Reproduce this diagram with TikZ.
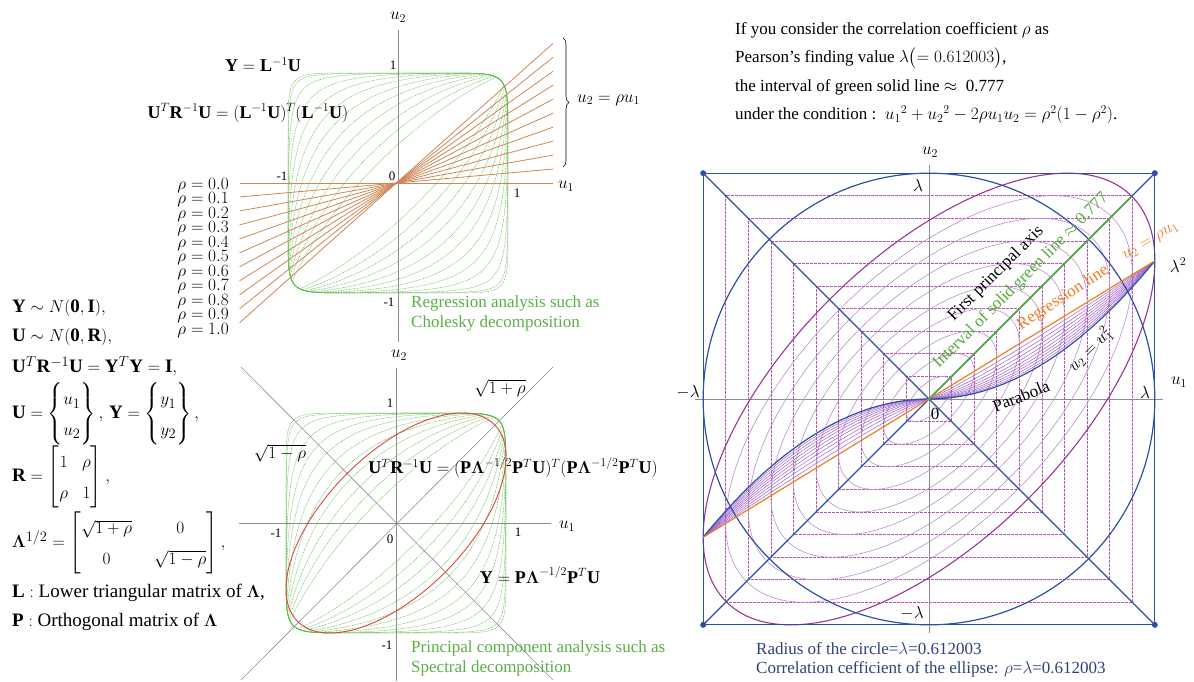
\documentclass[tikz,border=0pt]{standalone}
\usepackage{amsmath}
\usepackage{bm}
\usepackage{fontspec}
\setmainfont{Liberation Serif}
\usetikzlibrary{decorations.pathreplacing}
\definecolor{gcol}{RGB}{95,185,75}
\definecolor{gtext}{RGB}{90,175,70}
\definecolor{orl}{RGB}{205,135,85}
\definecolor{ora}{RGB}{240,125,35}
\definecolor{bl}{RGB}{45,80,165}
\definecolor{dbl}{RGB}{45,65,125}
\definecolor{pur}{RGB}{150,55,150}
\definecolor{pdsh}{RGB}{180,85,180}
\definecolor{plt}{RGB}{190,140,205}
\definecolor{pfan}{RGB}{155,95,205}
\definecolor{gln}{RGB}{85,170,60}
\definecolor{redc}{RGB}{220,70,60}
\newcommand{\mygreenfam}{%
  \foreach \ph in {10.2,14.6,19.1,23.9,28.9,34.3,40.3,47.1,55.1,65.5,77.0,90.0}{%
    \draw[gdot] plot[domain=0:360,samples=150]
      ({hh(cos(\x))*sn(hh(cos(\x)),hh(cos(\x-\ph)))},
       {hh(cos(\x-\ph))*sn(hh(cos(\x)),hh(cos(\x-\ph)))});}}
\newcommand{\mstr}{\renewcommand{\arraystretch}{1.45}\setlength{\arraycolsep}{7pt}}
\begin{document}
\begin{tikzpicture}[x=1pt,y=-1pt,
  declare function={hh(\c)=sin(90*(1.3*\c-0.3*\c*\c*\c));
    sn(\a,\b)=min(1,1/((abs(\a))^10+(abs(\b))^10+0.0001)^0.1);},
  ax/.style={draw=black!45, line width=0.6pt},
  gdot/.style={draw=gcol, line width=0.45pt, dash pattern=on 0.9pt off 0.7pt},
  txt/.style={font=\fontsize{17}{18}\selectfont, inner sep=0pt},
  rtxt/.style={font=\fontsize{16.5}{17}\selectfont, inner sep=0pt},
  big/.style={font=\fontsize{19}{21}\selectfont, inner sep=0pt},
  eqn/.style={font=\fontsize{18}{20}\selectfont, inner sep=0pt},
  tick/.style={font=\fontsize{13}{13}\selectfont, inner sep=0pt},
  gtxt/.style={txt, text=gtext, anchor=west},
  btxt/.style={txt, text=dbl, anchor=west},
  bline/.style={draw=bl, line width=1.2pt},
  pdashed/.style={draw=pdsh, line width=0.8pt, dash pattern=on 3pt off 1pt},
  pell/.style={draw=plt, line width=0.6pt},
  fan/.style={draw=pfan, line width=0.5pt}]
\useasboundingbox (0,0) rectangle (1194,681);

% ---------------- top-left panel (Cholesky) ----------------
\draw[ax] (398,30) -- (398,342);
\draw[ax] (240,183) -- (553,183);
\begin{scope}[shift={(398,183)},x=110pt,y=110pt]
  \mygreenfam
  \foreach \k in {0,...,10}{\draw[orl, line width=0.8pt] (-1.44,-0.127*\k) -- (1.41,0.127*\k);}
\end{scope}
\node[txt] (u2a) at (398,17) {$u_2$};
\node[txt] (u1a) at (566,186) {$u_1$};
\node[tick] (ta1) at (393,65) {1};
\node[tick] (ta2) at (282,176) {-1};
\node[tick] (ta3) at (392,176) {0};
\node[tick] (ta4) at (517,193) {1};
\node[tick] (ta5) at (389,302) {-1};
\node[eqn] (eqY) at (263,65) {$\mathbf{Y}=\mathbf{L}^{-1}\mathbf{U}$};
\node[eqn] (eqU) at (248,113) {$\mathbf{U}^T\mathbf{R}^{-1}\mathbf{U}=(\mathbf{L}^{-1}\mathbf{U})^T(\mathbf{L}^{-1}\mathbf{U})$};
\draw[decorate, decoration={brace, amplitude=6pt}, line width=0.6pt] (563,38) -- (563,167);
\node[txt, anchor=west] (rl) at (577,100) {$u_2=\rho u_1$};
\foreach \k in {0,...,10}{
  \node[rtxt, anchor=base east] (rho\k) at (229,189+14.5*\k) {$\rho=\ifnum\k<10 0.\k\else 1.0\fi$};}
\node[gtxt] (g1) at (411,303) {Regression analysis such as};
\node[gtxt] (g2) at (411,323) {Cholesky decomposition};

% ---------------- left formulas ----------------
\node[big, anchor=west] (f1) at (12,308) {$\mathbf{Y}\sim N(\mathbf{0},\mathbf{I}),$};
\node[big, anchor=west] (f2) at (12,337) {$\mathbf{U}\sim N(\mathbf{0},\mathbf{R}),$};
\node[big, anchor=west] (f3) at (12,366) {$\mathbf{U}^T\mathbf{R}^{-1}\mathbf{U}=\mathbf{Y}^T\mathbf{Y}=\mathbf{I},$};
\node[big, anchor=west] (f4) at (12,414) {\mstr$\mathbf{U}=\begin{Bmatrix}u_1\\ u_2\end{Bmatrix},\,\mathbf{Y}=\begin{Bmatrix}y_1\\ y_2\end{Bmatrix},$};
\node[big, anchor=west] (f5) at (12,477) {\mstr$\mathbf{R}=\begin{bmatrix}1&\rho\\ \rho&1\end{bmatrix},$};
\node[big, anchor=west] (f6) at (12,543) {\mstr\setlength{\arraycolsep}{11pt}$\bm{\Lambda}^{1/2}=\begin{bmatrix}\sqrt{1+\rho}&0\\ 0&\sqrt{1-\rho}\end{bmatrix},$};
\node[big, anchor=west] (f7) at (12,593) {$\mathbf{L}:$ Lower triangular matrix of $\bm{\Lambda}$,};
\node[big, anchor=west] (f8) at (12,622) {$\mathbf{P}:$ Orthogonal matrix of $\bm{\Lambda}$};

% ---------------- bottom-left panel (PCA) ----------------
\draw[ax] (396,368) -- (396,681);
\draw[ax] (239,523) -- (551,523);
\draw[ax] (241,680) -- (553,367);
\draw[ax] (241,367) -- (553,680);
\begin{scope}[shift={(396,523)},x=110pt,y=110pt]
  \mygreenfam
  \draw[redc, line width=0.9pt, rotate=45] (0,0) ellipse [x radius=1.2649, y radius=0.6325];
\end{scope}
\node[txt] (u2b) at (399,355) {$u_2$};
\node[txt] (u1b) at (567,526) {$u_1$};
\node[tick] (tb1) at (390,403) {1};
\node[tick] (tb2) at (276,533) {-1};
\node[tick] (tb3) at (518,532) {1};
\node[tick] (tb4) at (390,539) {0};
\node[tick] (tb5) at (387,645) {-1};
\node[txt] (sqp) at (500,388) {$\sqrt{1+\rho}$};
\node[txt] (sqm) at (280,453) {$\sqrt{1-\rho}$};
\node[eqn] (eqP) at (513,468) {$\mathbf{U}^T\mathbf{R}^{-1}\mathbf{U}=(\mathbf{P}\bm{\Lambda}^{-1/2}\mathbf{P}^T\mathbf{U})^T(\mathbf{P}\bm{\Lambda}^{-1/2}\mathbf{P}^T\mathbf{U})$};
\node[eqn] (eqYP) at (540,575) {$\mathbf{Y}=\mathbf{P}\bm{\Lambda}^{-1/2}\mathbf{P}^T\mathbf{U}$};
\node[gtxt] (g3) at (411,648) {Principal component analysis such as};
\node[gtxt] (g4) at (411,668) {Spectral decomposition};

% ---------------- top-right text ----------------
\node[txt, anchor=west] (r1) at (735,30) {If you consider the correlation coefficient $\rho$ as};
\node[txt, anchor=west] (r2) at (735,58) {Pearson's finding value $\lambda\bigl(=0.612003\bigr)$,};
\node[txt, anchor=west] (r3) at (735,87) {the interval of green solid line $\approx$\ \ 0.777};
\node[txt, anchor=west] (r4) at (735,115) {under the condition :\ \ $u_1{}^2+u_2{}^2-2\rho u_1u_2=\rho^2(1-\rho^2)$.};

% ---------------- right panel ----------------
\draw[ax] (929,165) -- (929,633);
\draw[ax] (695,399) -- (1163,399);
\begin{scope}[shift={(929,399)},x=369pt,y=369pt]
  \foreach \k in {1,...,9}{\draw[pdashed] (-0.0612*\k,-0.0612*\k) rectangle (0.0612*\k,0.0612*\k);}
  \foreach \k in {1,...,9}{\draw[pell, rotate=45] (0,0) ellipse [x radius=0.0777*\k, y radius=0.03812*\k];}
  \draw[pur, line width=1.1pt, rotate=45] (0,0) ellipse [x radius=0.777, y radius=0.3812];
  \foreach \p in {1.1,1.2,1.3,1.4,1.5,1.6,1.7,1.8,1.9}{
    \draw[fan] (0,0) -- plot[domain=0.02:1,samples=40] ({0.612*\x},{0.3745*\x^\p});
    \draw[fan] (0,0) -- plot[domain=0.02:1,samples=40] ({-0.612*\x},{-0.3745*\x^\p});}
  \draw[bline] (0,0) circle (0.612);
  \draw[bline] (-0.612,-0.612) rectangle (0.612,0.612);
  \draw[bline] (-0.612,0.612) -- (0.612,-0.612);
  \draw[bline] (-0.612,-0.612) -- (0.612,0.612);
  \draw[bline] plot[domain=0:1,samples=40] ({0.612*\x},{0.3745*\x*\x});
  \draw[bline] plot[domain=0:1,samples=40] ({-0.612*\x},{-0.3745*\x*\x});
  \draw[ora, line width=1.2pt] (-0.612,-0.3745) -- (0.612,0.3745);
  \draw[gln, line width=1.4pt] (0,0) -- (0.5494,0.5494);
  \foreach \c in {(-0.612,-0.612),(0.612,-0.612),(-0.612,0.612),(0.612,0.612)}{\fill[bl] \c circle (3pt);}
\end{scope}
\node[txt] (u2c) at (930,152) {$u_2$};
\node[txt] (u1c) at (1179,382) {$u_1$};
\node[txt] (lt) at (918,185) {$\lambda$};
\node[txt] (lb) at (912,613) {$-\lambda$};
\node[txt] (ll) at (688,392) {$-\lambda$};
\node[txt] (lr) at (1145,392) {$\lambda$};
\node[txt] (l0) at (935,414) {0};
\node[txt] (l2) at (1178,265) {$\lambda^2$};
\node[txt, rotate=45] (fpa) at (996,274) {First principal axis};
\node[txt, rotate=45, text=gln] (isg) at (1021,281) {Interval of solid green line $\approx$ 0.777};
\node[txt, rotate=33, text=ora] (rgl) at (1063,298) {Regression line};
\node[txt, rotate=31, text=ora] (rgq) at (1151,242) {$u_2=\rho u_1$};
\node[txt, rotate=22] (par) at (1021,396) {Parabola};
\node[txt, rotate=45] (parq) at (1090,350) {$u_2=u_1^2$};
\node[btxt] (b1) at (756,649) {Radius of the circle=$\lambda$=0.612003};
\node[btxt] (b2) at (756,669) {Correlation cefficient of the ellipse: $\rho$=$\lambda$=0.612003};
\end{tikzpicture}
\end{document}
